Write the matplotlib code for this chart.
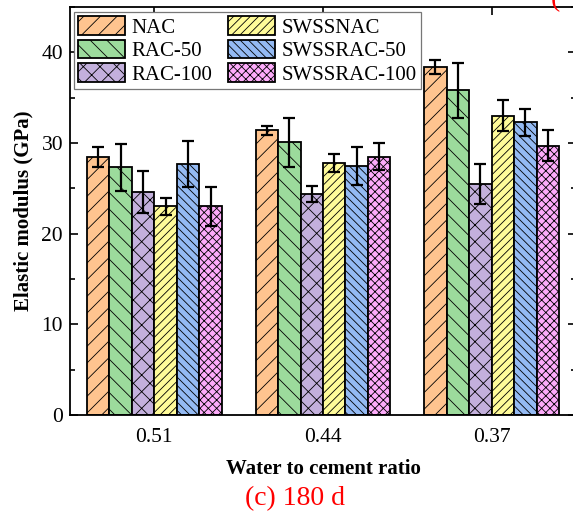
import numpy as np
import matplotlib.pyplot as plt
from matplotlib.ticker import MultipleLocator

plt.rcParams['font.family'] = ['Liberation Serif', 'DejaVu Serif']
plt.rcParams['hatch.linewidth'] = 0.6
plt.rcParams['hatch.color'] = '#333333'

groups = ['0.51', '0.44', '0.37']
series = ['NAC', 'RAC-50', 'RAC-100', 'SWSSNAC', 'SWSSRAC-50', 'SWSSRAC-100']
values = {
    'NAC':         [28.5, 31.4, 38.4],
    'RAC-50':      [27.3, 30.1, 35.8],
    'RAC-100':     [24.6, 24.4, 25.5],
    'SWSSNAC':     [23.0, 27.8, 33.0],
    'SWSSRAC-50':  [27.7, 27.5, 32.3],
    'SWSSRAC-100': [23.0, 28.5, 29.7],
}
errors = {
    'NAC':         [1.1, 0.5, 0.8],
    'RAC-50':      [2.6, 2.7, 3.0],
    'RAC-100':     [2.3, 0.9, 2.2],
    'SWSSNAC':     [0.9, 1.0, 1.7],
    'SWSSRAC-50':  [2.5, 2.1, 1.5],
    'SWSSRAC-100': [2.1, 1.5, 1.7],
}
colors = ['#FFC48F', '#9CDB9C', '#C3B0DC', '#FFFB99', '#94BAF3', '#FDABFA']
hatches = ['//', '\\\\', 'xx', '////', '\\\\\\\\', 'xxxx']

fig = plt.figure(figsize=(5.73, 5.16), dpi=100)
ax = fig.add_axes([70/573, 101/516, 506/573, 408/516])

x = np.arange(1, len(groups) + 1)
w = 0.8 / len(series)
for i, s in enumerate(series):
    pos = x - 0.4 + w * (i + 0.5)
    ax.bar(pos, values[s], w, color=colors[i], edgecolor='black', linewidth=1.3,
           hatch=hatches[i], label=s, zorder=2)
    ax.errorbar(pos, values[s], yerr=errors[s], fmt='none', ecolor='black',
                elinewidth=1.6, capsize=4, capthick=1.6, zorder=3)

ax.set_xlim(0.5, 3.5)
ax.set_ylim(0, 45)
ax.set_xticks(x)
ax.set_xticklabels(groups)
ax.yaxis.set_major_locator(MultipleLocator(10))
ax.yaxis.set_minor_locator(MultipleLocator(5))
ax.tick_params(axis='both', which='both', direction='in', top=True, right=True,
               labelsize=15.5, width=1.2)
ax.tick_params(which='major', length=6)
ax.tick_params(which='minor', length=3.5)
ax.tick_params(axis='x', pad=9)
ax.tick_params(axis='y', pad=5)
for sp in ax.spines.values():
    sp.set_linewidth(1.3)

ax.set_ylabel('Elastic modulus (GPa)', fontsize=15, fontweight='bold', labelpad=6)
ax.set_xlabel('Water to cement ratio', fontsize=15, fontweight='bold', labelpad=9)
fig.text(295/573, 1 - 499/516, '(c) 180 d', color='red', fontsize=20, ha='center', va='center')
fig.text(551/573, 1.0, '(', color='red', fontsize=20, ha='left', va='center')

leg = ax.legend(ncol=2, loc='upper left', bbox_to_anchor=(0.003, 0.993), fontsize=15,
                frameon=True, fancybox=False, edgecolor='#777777', framealpha=1,
                handlelength=2.25, handleheight=1.0, columnspacing=0.8,
                handletextpad=0.3, labelspacing=0.1, borderpad=0.2, borderaxespad=0.1)
leg.get_frame().set_linewidth(0.9)

fig.savefig('out.png', dpi=100)
